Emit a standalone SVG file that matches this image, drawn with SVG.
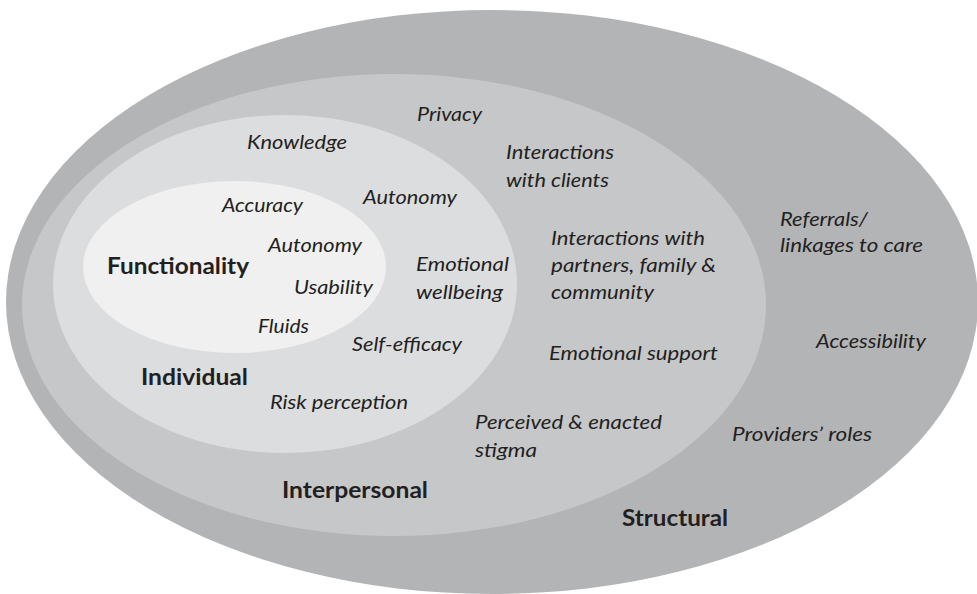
<svg xmlns="http://www.w3.org/2000/svg" width="977" height="594" viewBox="0 0 977 594">
  <style>
    .structural { fill: #b3b4b6; }
    .interpersonal { fill: #c6c7c9; }
    .individual { fill: #dcdddf; }
    .functionality { fill: #f0f0f0; }
    .item { font-family: Lato, "Open Sans", "Liberation Sans", sans-serif; font-style: italic; font-size: 19.5px; fill: #231f20; }
    .level { font-family: Lato, "Open Sans", "Liberation Sans", sans-serif; font-weight: bold; font-size: 23px; fill: #231f20; }
  </style>
  <rect width="977" height="594" fill="#ffffff"/>

  <!-- Structural level: outermost ellipse -->
  <g id="structural">
    <ellipse class="structural" cx="492" cy="302" rx="486" ry="292"/>
    <text class="item" x="780" y="226" textLength="88" lengthAdjust="spacingAndGlyphs">Referrals/</text>
    <text class="item" x="780" y="252" textLength="143" lengthAdjust="spacingAndGlyphs">linkages to care</text>
    <text class="item" x="816" y="348" textLength="110" lengthAdjust="spacingAndGlyphs">Accessibility</text>
    <text class="item" x="732" y="441" textLength="140" lengthAdjust="spacingAndGlyphs">Providers’ roles</text>
    <text class="level" x="622" y="526" textLength="106" lengthAdjust="spacingAndGlyphs">Structural</text>
  </g>

  <!-- Interpersonal level -->
  <g id="interpersonal">
    <ellipse class="interpersonal" cx="394" cy="305" rx="372" ry="231"/>
    <text class="item" x="417" y="121" textLength="65" lengthAdjust="spacingAndGlyphs">Privacy</text>
    <text class="item" x="506" y="159" textLength="108" lengthAdjust="spacingAndGlyphs">Interactions</text>
    <text class="item" x="506" y="187" textLength="103" lengthAdjust="spacingAndGlyphs">with clients</text>
    <text class="item" x="551" y="245" textLength="154" lengthAdjust="spacingAndGlyphs">Interactions with</text>
    <text class="item" x="551" y="272" textLength="165" lengthAdjust="spacingAndGlyphs">partners, family &amp;</text>
    <text class="item" x="551" y="299" textLength="103" lengthAdjust="spacingAndGlyphs">community</text>
    <text class="item" x="549" y="360" textLength="169" lengthAdjust="spacingAndGlyphs">Emotional support</text>
    <text class="item" x="475" y="429" textLength="187" lengthAdjust="spacingAndGlyphs">Perceived &amp; enacted</text>
    <text class="item" x="475" y="457" textLength="62" lengthAdjust="spacingAndGlyphs">stigma</text>
    <text class="level" x="282" y="498" textLength="146" lengthAdjust="spacingAndGlyphs">Interpersonal</text>
  </g>

  <!-- Individual level -->
  <g id="individual">
    <ellipse class="individual" cx="285" cy="284" rx="232" ry="169"/>
    <text class="item" x="247" y="149" textLength="100" lengthAdjust="spacingAndGlyphs">Knowledge</text>
    <text class="item" x="363" y="204" textLength="94" lengthAdjust="spacingAndGlyphs">Autonomy</text>
    <text class="item" x="416" y="271" textLength="93" lengthAdjust="spacingAndGlyphs">Emotional</text>
    <text class="item" x="416" y="299" textLength="87" lengthAdjust="spacingAndGlyphs">wellbeing</text>
    <text class="item" x="352" y="351" textLength="110" lengthAdjust="spacingAndGlyphs">Self-efficacy</text>
    <text class="item" x="270" y="409" textLength="138" lengthAdjust="spacingAndGlyphs">Risk perception</text>
    <text class="level" x="141" y="385" textLength="107" lengthAdjust="spacingAndGlyphs">Individual</text>
  </g>

  <!-- Functionality level: innermost ellipse -->
  <g id="functionality">
    <ellipse class="functionality" cx="234.5" cy="267" rx="151.5" ry="86"/>
    <text class="item" x="222" y="212" textLength="81" lengthAdjust="spacingAndGlyphs">Accuracy</text>
    <text class="item" x="268" y="252" textLength="94" lengthAdjust="spacingAndGlyphs">Autonomy</text>
    <text class="item" x="294" y="294" textLength="79" lengthAdjust="spacingAndGlyphs">Usability</text>
    <text class="item" x="258" y="333" textLength="51" lengthAdjust="spacingAndGlyphs">Fluids</text>
    <text class="level" x="107" y="274" textLength="142" lengthAdjust="spacingAndGlyphs">Functionality</text>
  </g>
</svg>
